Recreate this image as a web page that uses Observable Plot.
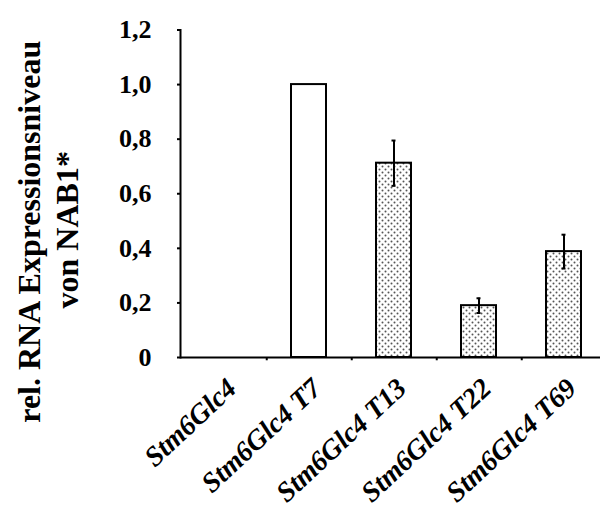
<!DOCTYPE html>
<html>
<head>
<meta charset="utf-8">
<script src="https://cdn.jsdelivr.net/npm/d3@7"></script>
<script src="https://cdn.jsdelivr.net/npm/@observablehq/plot@0.6"></script>
<style>
  html, body { margin: 0; padding: 0; background: white; }
</style>
</head>
<body>
<div id="chart"></div>
<script>
const categories = ["Stm6Glc4", "Stm6Glc4 T7", "Stm6Glc4 T13", "Stm6Glc4 T22", "Stm6Glc4 T69"];
const values = [0, 1.0, 0.712, 0.19, 0.388];
const errors = [null, null, 0.083, 0.027, 0.062];
const patterned = [false, false, true, true, true];
const yTicks = [0, 0.2, 0.4, 0.6, 0.8, 1.0, 1.2];
const yTickLabels = ["0", "0,2", "0,4", "0,6", "0,8", "1,0", "1,2"];
const yTitleLines = ["rel. RNA Expressionsniveau", "von NAB1*"];

const data = categories.map((c, i) => ({category: c, value: values[i], error: errors[i], patterned: patterned[i]}));
const withErr = data.filter(d => d.error != null);

const xRange = [180, 607.5];
const halfStep = (xRange[1] - xRange[0]) / categories.length / 2;
const font = "'Liberation Serif', 'Times New Roman', serif";

const svg = Plot.plot({
  width: 600,
  height: 513,
  marginLeft: 180,
  marginRight: 0,
  marginTop: 29.5,
  marginBottom: 156,
  style: {fontFamily: font, background: "white", color: "black", overflow: "visible"},
  x: {domain: categories, range: xRange, paddingInner: 0.585, paddingOuter: 0.2925, axis: null},
  y: {domain: [0, 1.2], axis: null},
  marks: [
    Plot.barY(data.filter(d => !d.patterned), {x: "category", y: "value", fill: "white", stroke: "black", strokeWidth: 2}),
    Plot.barY(data.filter(d => d.patterned), {x: "category", y: "value", fill: "url(#dots)", stroke: "black", strokeWidth: 2}),
    Plot.ruleX(withErr, {x: "category", y1: d => d.value - d.error, y2: d => d.value + d.error, stroke: "black", strokeWidth: 2}),
    Plot.tickY(withErr, {x: "category", y: d => d.value + d.error, insetLeft: 15.5, insetRight: 15.5, stroke: "black", strokeWidth: 2}),
    Plot.tickY(withErr, {x: "category", y: d => d.value - d.error, insetLeft: 15.5, insetRight: 15.5, stroke: "black", strokeWidth: 2}),
    Plot.ruleY([0], {stroke: "black", strokeWidth: 2}),
    Plot.ruleX(categories.slice(0, categories.length - 1), {x: d => d, y1: 0, y2: -0.012, dx: halfStep, stroke: "black", strokeWidth: 2}),
    Plot.frame({anchor: "left", stroke: "black", strokeWidth: 2}),
    Plot.axisY(yTicks, {
      tickFormat: d => yTickLabels[yTicks.indexOf(d)],
      tickSize: 3, tickPadding: 26, strokeWidth: 2,
      fontSize: 26, fontWeight: "bold", label: null
    }),
    Plot.text(data, {
      x: "category", text: "category", frameAnchor: "bottom",
      rotate: -43, textAnchor: "end", lineAnchor: "bottom",
      dx: 14, dy: 33, fontSize: 28, fontStyle: "italic", fontWeight: "bold", fill: "black"
    }),
    Plot.text([yTitleLines[0]], {
      text: d => d, frameAnchor: "left", rotate: -90, textAnchor: "middle", lineAnchor: "bottom",
      dx: -141, dy: 38, fontSize: 32, fontWeight: "bold", fill: "black"
    }),
    Plot.text([yTitleLines[1]], {
      text: d => d, frameAnchor: "left", rotate: -90, textAnchor: "middle", lineAnchor: "bottom",
      dx: -103, dy: 36, fontSize: 32, fontWeight: "bold", fill: "black"
    })
  ]
});

// dotted fill pattern
const ns = "http://www.w3.org/2000/svg";
const defs = document.createElementNS(ns, "defs");
const pat = document.createElementNS(ns, "pattern");
pat.setAttribute("id", "dots");
pat.setAttribute("patternUnits", "userSpaceOnUse");
pat.setAttribute("width", "6");
pat.setAttribute("height", "6");
const bg = document.createElementNS(ns, "rect");
bg.setAttribute("width", "6"); bg.setAttribute("height", "6"); bg.setAttribute("fill", "white");
pat.appendChild(bg);
for (const [cx, cy] of [[1.5, 1.5], [4.5, 4.5]]) {
  const c = document.createElementNS(ns, "circle");
  c.setAttribute("cx", cx); c.setAttribute("cy", cy); c.setAttribute("r", "1");
  c.setAttribute("fill", "#555");
  pat.appendChild(c);
}
defs.appendChild(pat);
svg.insertBefore(defs, svg.firstChild);

document.getElementById("chart").appendChild(svg);
</script>
</body>
</html>
